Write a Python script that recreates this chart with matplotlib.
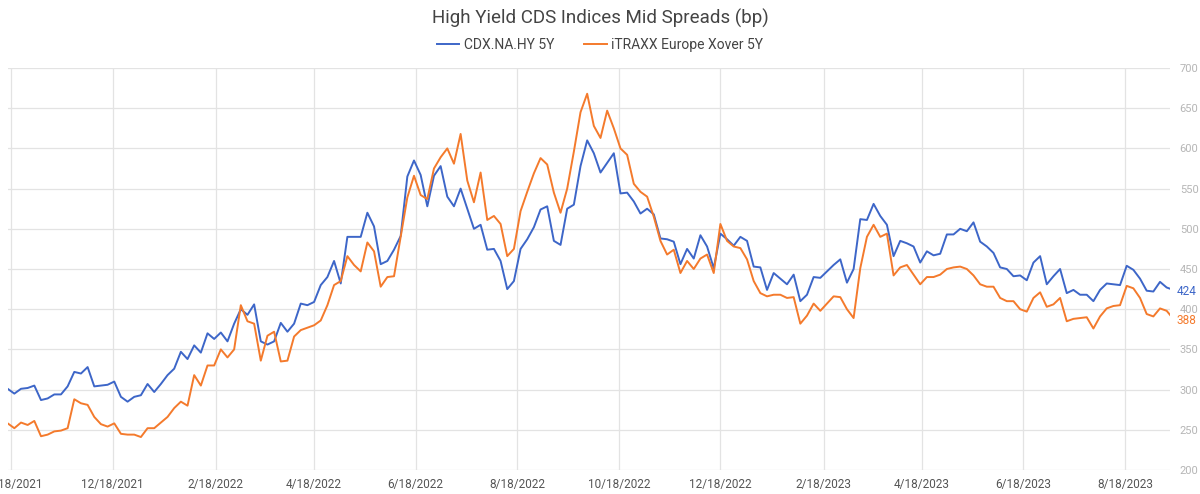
import pandas as pd
import matplotlib
matplotlib.use("Agg")
import matplotlib.pyplot as plt

plt.rcParams['font.family'] = ['Roboto', 'DejaVu Sans']

# spreads in bp, sampled every 4 days from 2021-10-16
cdx_hy = [301, 295, 301, 302, 305, 287, 289, 294, 294, 304,
          322, 320, 328, 304, 305, 306, 310, 291, 285, 291,
          293, 307, 297, 307, 318, 326, 347, 338, 355, 346,
          370, 363, 371, 360, 382, 400, 393, 406, 360, 356,
          360, 383, 372, 382, 407, 405, 409, 430, 440, 460,
          432, 490, 490, 490, 520, 503, 456, 460,
          474, 491, 565, 585, 567, 528, 566, 578, 540, 528,
          550, 525, 500, 505, 474, 475, 460, 425, 435, 475,
          487, 502, 524, 528, 485, 480, 525, 530,
          578,
          610, 594, 570, 582, 594, 544, 545, 534, 519, 525,
          518, 488, 487, 484, 456, 475, 463, 492, 478, 451,
          494, 487, 479, 490, 485, 453, 452, 424,
          445, 438, 431, 443, 410, 418, 440, 439, 447, 455,
          462, 433, 450, 512, 511, 531, 516, 505, 466, 485,
          482, 478, 458, 472, 467, 469, 493, 493, 500,
          497, 508, 484, 478, 470, 452, 450, 441, 442, 436,
          458, 466, 431, 441, 450, 420, 424, 418, 418, 410,
          424, 432, 431, 430, 454, 449, 438, 423, 422, 434, 427, 424]

itraxx_xo = [258, 252, 259, 256, 261, 242, 244, 248, 249, 252,
             288, 283, 281, 266, 257, 254, 258, 245, 244, 244,
             241, 252, 252, 259, 266, 277, 285, 280, 318, 305,
             330, 330, 350, 340, 350, 405, 385, 382, 336, 367,
             372, 335, 336, 366, 374, 377, 380, 386, 405, 430,
             435, 466, 455, 447, 483, 472, 428, 440,
             441, 490, 539, 566, 542, 537, 575, 589, 600, 581,
             618, 560, 533, 570, 511, 516, 506, 466, 475, 522,
             546, 569, 588, 580, 545, 520, 550, 596,
             645,
             668, 628, 613, 647, 625, 600, 592, 556, 546, 540,
             515, 485, 468, 474, 445, 460, 450, 463, 468, 445,
             506, 485, 478, 476, 462, 435, 420, 416,
             418, 418, 414, 415, 382, 392, 407, 398, 407, 416,
             415, 400, 389, 451, 490, 505, 490, 494, 442, 452,
             455, 443, 431, 440, 440, 443, 450, 452, 453,
             450, 442, 431, 428, 428, 414, 410, 410, 400, 397,
             414, 421, 403, 406, 414, 385, 388, 389, 390, 376,
             391, 401, 404, 405, 429, 426, 414, 394, 391, 401, 398, 388]

dates = pd.date_range('2021-10-16', periods=len(cdx_hy), freq='4D')

tick_dates = pd.to_datetime(['2021-10-18', '2021-12-18', '2022-02-18', '2022-04-18',
                             '2022-06-18', '2022-08-18', '2022-10-18', '2022-12-18',
                             '2023-02-18', '2023-04-18', '2023-06-18', '2023-08-18'])
y_ticks = [200, 250, 300, 350, 400, 450, 500, 550, 600, 650, 700]

blue = '#3d66c8'
orange = '#f47a2c'

fig = plt.figure(figsize=(12, 4.94), dpi=100)
ax = fig.add_axes([0.0064, 0.0486, 0.9686, 0.8137])

l1, = ax.plot(dates, cdx_hy, color=blue, lw=1.4, label='CDX.NA.HY 5Y')
l2, = ax.plot(dates, itraxx_xo, color=orange, lw=1.4, label='iTRAXX Europe Xover 5Y')

ax.set_xlim(pd.Timestamp('2021-10-16'), pd.Timestamp('2023-09-14'))
ax.set_ylim(200, 700)
ax.set_xticks(tick_dates)
ax.set_xticklabels([f"{d.month}/{d.day}/{d.year}" for d in tick_dates])
ax.set_yticks(y_ticks)

ax.yaxis.tick_right()
ax.tick_params(axis='y', length=0, pad=7, labelsize=8, labelcolor='#b5b5b5')
ax.tick_params(axis='x', length=0, pad=6, labelsize=8.5, labelcolor='#555555')
ax.grid(True, color='#e3e3e3', lw=0.9)
ax.set_axisbelow(True)
for s in ax.spines.values():
    s.set_visible(False)

# last value labels
for series, c in ((cdx_hy, blue), (itraxx_xo, orange)):
    ax.annotate(str(series[-1]), xy=(1, series[-1]), xycoords=('axes fraction', 'data'),
                xytext=(5, -1), textcoords='offset points', ha='left', va='center',
                fontsize=8.5, color=c)

fig.text(0.5, 0.963, 'High Yield CDS Indices Mid Spreads (bp)', ha='center', va='center',
         fontsize=13.5, color='#444444')
fig.legend(handles=[l1, l2], loc='center', bbox_to_anchor=(0.5, 0.909), ncol=2,
           frameon=False, fontsize=10, handlelength=1.6, handletextpad=0.3,
           columnspacing=2.2, labelcolor='#444444')

fig.savefig('out.png', dpi=100)
